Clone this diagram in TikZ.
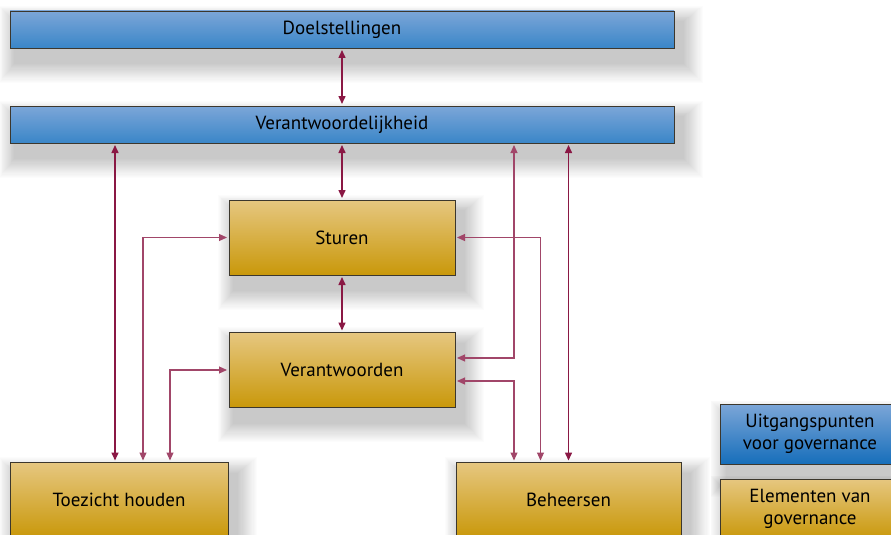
\documentclass[tikz,border=0pt]{standalone}
\usepackage{fontspec}
\setmainfont{PT Sans}
\usepackage{tikz}
\usetikzlibrary{arrows.meta,positioning,calc,backgrounds}
\definecolor{bluetop}{RGB}{124,166,216}
\definecolor{bluebot}{RGB}{58,134,200}
\definecolor{legendbot}{RGB}{22,110,186}
\definecolor{goldtop}{RGB}{230,199,128}
\definecolor{goldbot}{RGB}{201,152,10}
\definecolor{boxedge}{RGB}{60,55,45}
\definecolor{linkred}{RGB}{138,24,68}

\begin{document}
\begin{tikzpicture}[
  x=1pt,y=-1pt,
  font=\fontsize{19}{22}\selectfont,
  bluebar/.style={draw=boxedge,line width=0.6pt,top color=bluetop,bottom color=bluebot,
    minimum width=664pt,minimum height=37pt,inner sep=0pt,outer sep=2pt},
  goldbox/.style={draw=boxedge,line width=0.6pt,top color=goldtop,bottom color=goldbot,
    minimum width=226pt,minimum height=75pt,inner sep=0pt,outer sep=2pt},
  legendbox/.style={draw=boxedge,line width=0.6pt,minimum width=180pt,minimum height=60pt,
    align=center,inner sep=0pt},
  haze/.style={fill=black,opacity=0.01},
  link/.style={{Triangle[length=8pt,width=7pt]}-{Triangle[length=8pt,width=7pt]},
    line width=1.5pt,draw=linkred},
  elbow/.style={{Triangle[length=8pt,width=7pt]}-{Triangle[length=8pt,width=7pt]},
    line width=1.1pt,draw=linkred!80}
]
\useasboundingbox (0,0) rectangle (891,535);

% -------------------------------------------------------------------------
% Uitgangspunten
% -------------------------------------------------------------------------
\node[bluebar] (doel) at (342,29.5) {Doelstellingen};
\node[bluebar] (verant) at (342,124.5) {Verantwoordelijkheid};

% -------------------------------------------------------------------------
% Elementen
% -------------------------------------------------------------------------
\node[goldbox] (sturen) at (342,237.5) {Sturen};
\node[goldbox] (verantw) at (342,370) {Verantwoorden};
\node[goldbox,minimum width=218pt] (toez) at (119,500) {Toezicht houden};
\node[goldbox,minimum width=225pt] (beh) at (568.5,500) {Beheersen};

% -------------------------------------------------------------------------
% Legenda
% -------------------------------------------------------------------------
\node[legendbox,top color=bluetop,bottom color=legendbot] (lgblue) at (810,434)
  {Uitgangspunten\\voor governance};
\node[legendbox,top color=goldtop,bottom color=goldbot] (lggold) at (810,509)
  {Elementen van\\governance};

% soft shadows
\begin{scope}[on background layer]
  \fill[white] (0,0) rectangle (891,535);
  \foreach \n in {doel,verant,sturen,verantw,toez,beh,lgblue,lggold}
    \foreach \k in {1,...,18}
      {\fill[haze] ([shift={(7-0.9*\k,13-0.9*\k)}]\n.north west)
         rectangle ([shift={(7+1.1*\k,13+1.1*\k)}]\n.south east);}
\end{scope}

% -------------------------------------------------------------------------
% Verbindingen
% -------------------------------------------------------------------------
\foreach \a/\b in {doel/verant,verant/sturen,sturen/verantw}
  {\draw[link] (\a.south) -- (\b.north);}
\coordinate (lx) at ([xshift=-4pt]toez.north);
\coordinate (rx) at ([xshift=-54.5pt]beh.north);
\draw[link] (lx) -- (lx |- verant.south);
\draw[link] (beh.north) -- (beh.north |- verant.south);
\draw[elbow] ([xshift=24pt]toez.north) |- (sturen.west);
\draw[elbow] ([xshift=51pt]toez.north) |- (verantw.west);
\draw[elbow] (sturen.east) -| ([xshift=-28pt]beh.north);
\draw[elbow] (rx |- verant.south) |- ([yshift=12pt]verantw.east);
\draw[elbow] ([yshift=-11pt]verantw.east) -| (rx);
\end{tikzpicture}
\end{document}
